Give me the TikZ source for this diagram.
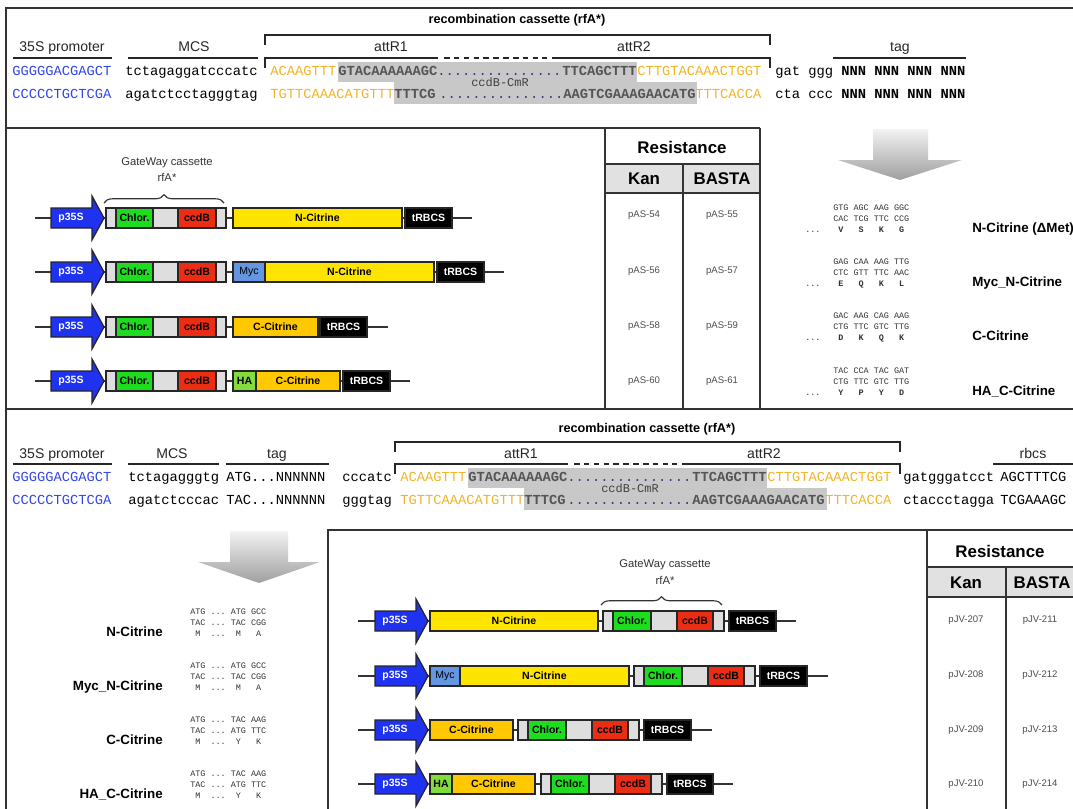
\documentclass[tikz,border=0pt]{standalone}
\usepackage{fontspec}
\setmainfont{Liberation Sans}
\setmonofont{Liberation Mono}
\usepackage{xcolor}
\usetikzlibrary{decorations.pathreplacing}

\definecolor{promblue}{RGB}{30,50,240}
\definecolor{chlgreen}{RGB}{30,220,30}
\definecolor{ccdred}{RGB}{235,45,20}
\definecolor{gwgray}{RGB}{222,222,222}
\definecolor{citn}{RGB}{255,228,0}
\definecolor{citc}{RGB}{255,200,0}
\definecolor{mycblue}{RGB}{100,150,225}
\definecolor{hagreen}{RGB}{130,220,60}
\definecolor{seqblue}{RGB}{50,70,230}
\definecolor{seqyel}{RGB}{240,180,40}
\definecolor{hlgray}{RGB}{200,200,200}
\definecolor{hltext}{RGB}{85,85,85}
\definecolor{dotblue}{RGB}{60,60,140}
\definecolor{kgray}{RGB}{225,225,225}

\newcommand{\seqfont}{\fontsize{9.8}{11}\selectfont\ttfamily}
\newcommand{\codfont}{\fontsize{6}{6.5}\selectfont\ttfamily}
\newcommand{\elfont}{\fontsize{7.5}{8}\selectfont\bfseries}

\begin{document}
\begin{tikzpicture}[x=0.025cm, y=-0.025cm,
  frame/.style={draw=black!80, line width=1.4pt},
  brk/.style={draw=black!85, line width=1.1pt},
  tab/.style={draw=black!80, line width=1pt},
  seq/.style={font=\seqfont, anchor=base west, inner sep=0pt},
  hl/.style={text=hltext, font=\seqfont\bfseries},
  sect/.style={font=\fontsize{10}{11}\selectfont, anchor=base, inner sep=0pt, text=black!85},
  title/.style={font=\fontsize{9}{10}\selectfont\bfseries, inner sep=0pt},
  bb/.style={draw=black!80, line width=1pt},
  elem/.style={draw=black!85, line width=0.9pt},
  prom/.style={elem, fill=promblue},
  term/.style={elem, fill=black},
  elabel/.style={font=\elfont, inner sep=0pt},
  wlabel/.style={font=\elfont, text=white, inner sep=0pt},
  gwtext/.style={font=\fontsize{8}{9}\selectfont, inner sep=0pt, text=black!80},
  reshead/.style={font=\fontsize{12}{13}\selectfont\bfseries, inner sep=0pt},
  resval/.style={font=\fontsize{6.8}{7}\selectfont, inner sep=0pt, text=black!70},
  cod/.style={font=\codfont, anchor=base west, inner sep=0pt, text=black!80},
  cname/.style={font=\fontsize{9.5}{10}\selectfont\bfseries, inner sep=0pt}]

  \useasboundingbox (0,0) rectangle (1073,809);
  \clip (0,0) rectangle (1073,809);

  % Frame
  \draw[frame] (6,809) -- (6,8) -- (1073,8);
  \draw[frame] (6,128) -- (760,128);
  \draw[frame] (6,409) -- (1073,409);
  \draw[frame] (1073,530) -- (328,530) -- (328,809);

  %%% Top sequence
  \node[title] (rc1) at (517,20) {recombination cassette (rfA*)};
  \draw[brk] (265,45) -- (265,35) -- (770,35) -- (770,45);
  \node[sect] (pra) at (62,52) {35S promoter};
  \node[sect] (mcsa) at (194,52) {MCS};
  \node[sect] (r1a) at (391,52) {attR1};
  \node[sect] (r2a) at (634,52) {attR2};
  \node[sect] (taga) at (900,52) {tag};
  \draw[brk] (13,58) -- (112,58);
  \draw[brk] (128,58) -- (258,58);
  \draw[brk] (265,68) -- (265,58) -- (438,58);
  \draw[brk, dash pattern=on 4pt off 3pt] (444,58) -- (547,58);
  \draw[brk] (552,58) -- (770,58) -- (770,68);
  \draw[brk] (833,58) -- (966,58);
  % shaded ccdB-CmR part
  \fill[hlgray] (338,62) rectangle (637,82);
  \fill[hlgray] (394,82) rectangle (697,104);
  % Row 1
  \node[seq, text=seqblue] (a1) at (12,75) {GGGGGACGAGCT};
  \node[seq] (a2) at (125,75) {tctagaggatcccatc};
  \node[seq, text=seqyel] (a3) at (270,75) {ACAAGTTT};
  \node[seq, hl] (a4) at (338,75) {GTACAAAAAAGC};
  \node[seq, text=dotblue] (a5) at (437,75) {...............};
  \node[seq, hl] (a6) at (562,75) {TTCAGCTTT};
  \node[seq, text=seqyel] (a7) at (637,75) {CTTGTACAAACTGGT};
  \node[seq] (a8) at (775,75) {gat~ggg};
  \node[seq, font=\seqfont\bfseries] (a9) at (841,75) {NNN~NNN~NNN~NNN};
  % Row 2
  \node[seq, text=seqblue] (b1) at (12,98) {CCCCCTGCTCGA};
  \node[seq] (b2) at (125,98) {agatctcctagggtag};
  \node[seq, text=seqyel] (b3) at (270,98) {TGTTCAAACATGTTT};
  \node[seq, hl] (b4) at (394,98) {TTTCG};
  \node[seq, text=dotblue] (b5) at (439,98) {...............};
  \node[seq, hl] (b6) at (563,98) {AAGTCGAAAGAACATG};
  \node[seq, text=seqyel] (b7) at (695,98) {TTTCACCA};
  \node[seq] (b8) at (775,98) {cta~ccc};
  \node[seq, font=\seqfont\bfseries] (b9) at (841,98) {NNN~NNN~NNN~NNN};
  \node[seq, anchor=base, font=\fontsize{8.5}{9}\selectfont\ttfamily, text=black!75] (cm1) at (500,86) {ccdB-CmR};

  %%% Upper constructs
  \draw[decorate, decoration={brace, amplitude=6pt}, draw=black!80, line width=0.8pt] (104,203) -- (224,203);
  \node[gwtext] (gwa) at (167,163) {GateWay cassette};
  \node[gwtext] (gwb) at (167,177) {rfA*};
  % Row 1
  \draw[bb] (35,218) -- (472,218);
  \draw[prom] (51,208) -- (92,208) -- (92,196) -- (104,218) -- (92,240) -- (92,228) -- (51,228) -- cycle;
  \node[wlabel] (p1) at (71,218) {p35S};
  \draw[elem, fill=gwgray] (106,208) rectangle (226,228);
  \draw[elem, fill=chlgreen] (116,208) rectangle (153,228) node[midway, elabel] (ch1) {Chlor.};
  \draw[elem, fill=ccdred] (178,208) rectangle (216,228) node[midway, elabel] (cc1) {ccdB};
  \draw[elem, fill=citn] (233,208) rectangle (402,228) node[midway, elabel] (ci1) {N-Citrine};
  \draw[term] (405,208) rectangle (452,228) node[midway, wlabel] (t1) {tRBCS};
  % Row 2
  \draw[bb] (35,272) -- (504,272);
  \draw[prom] (51,262) -- (92,262) -- (92,250) -- (104,272) -- (92,294) -- (92,282) -- (51,282) -- cycle;
  \node[wlabel] (p2) at (71,272) {p35S};
  \draw[elem, fill=gwgray] (106,262) rectangle (226,282);
  \draw[elem, fill=chlgreen] (116,262) rectangle (153,282) node[midway, elabel] (ch2) {Chlor.};
  \draw[elem, fill=ccdred] (178,262) rectangle (216,282) node[midway, elabel] (cc2) {ccdB};
  \draw[elem, fill=mycblue] (233,262) rectangle (265,282) node[midway, elabel, font=\fontsize{7.5}{8}\selectfont] (my2) {Myc};
  \draw[elem, fill=citn] (265,262) rectangle (434,282) node[midway, elabel] (ci2) {N-Citrine};
  \draw[term] (437,262) rectangle (484,282) node[midway, wlabel] (t2) {tRBCS};
  % Row 3
  \draw[bb] (35,327) -- (388,327);
  \draw[prom] (51,317) -- (92,317) -- (92,305) -- (104,327) -- (92,349) -- (92,337) -- (51,337) -- cycle;
  \node[wlabel] (p3) at (71,327) {p35S};
  \draw[elem, fill=gwgray] (106,317) rectangle (226,337);
  \draw[elem, fill=chlgreen] (116,317) rectangle (153,337) node[midway, elabel] (ch3) {Chlor.};
  \draw[elem, fill=ccdred] (178,317) rectangle (216,337) node[midway, elabel] (cc3) {ccdB};
  \draw[elem, fill=citc] (233,317) rectangle (318,337) node[midway, elabel] (ci3) {C-Citrine};
  \draw[term] (320,317) rectangle (367,337) node[midway, wlabel] (t3) {tRBCS};
  % Row 4
  \draw[bb] (35,381) -- (410,381);
  \draw[prom] (51,371) -- (92,371) -- (92,359) -- (104,381) -- (92,403) -- (92,391) -- (51,391) -- cycle;
  \node[wlabel] (p4) at (71,381) {p35S};
  \draw[elem, fill=gwgray] (106,371) rectangle (226,391);
  \draw[elem, fill=chlgreen] (116,371) rectangle (153,391) node[midway, elabel] (ch4) {Chlor.};
  \draw[elem, fill=ccdred] (178,371) rectangle (216,391) node[midway, elabel] (cc4) {ccdB};
  \draw[elem, fill=hagreen] (233,371) rectangle (256,391) node[midway, elabel] (ha4) {HA};
  \draw[elem, fill=citc] (256,371) rectangle (340,391) node[midway, elabel] (ci4) {C-Citrine};
  \draw[term] (343,371) rectangle (390,391) node[midway, wlabel] (t4) {tRBCS};

  % Upper resistance table
  \fill[kgray] (605,164) rectangle (760,193);
  \draw[tab] (605,128) -- (605,409);
  \draw[tab] (760,128) -- (760,409);
  \draw[tab] (605,164) -- (760,164);
  \draw[tab] (605,193) -- (760,193);
  \draw[tab] (683,164) -- (683,409);
  \node[reshead] (res1) at (682,147) {Resistance};
  \node[reshead] (kan1) at (644,179) {Kan};
  \node[reshead] (bas1) at (722,179) {BASTA};
  \node[resval] (k54) at (644,215) {pAS-54};
  \node[resval] (k56) at (644,271) {pAS-56};
  \node[resval] (k58) at (644,326) {pAS-58};
  \node[resval] (k60) at (644,381) {pAS-60};
  \node[resval] (b55) at (722,215) {pAS-55};
  \node[resval] (b57) at (722,271) {pAS-57};
  \node[resval] (b59) at (722,326) {pAS-59};
  \node[resval] (b61) at (722,381) {pAS-61};

  % Upper arrow
  \shade[top color=gray!10, bottom color=gray!75] (873,129) -- (928,129) -- (928,160) -- (962,160) -- (900,180) -- (838,160) -- (873,160) -- cycle;

  % Upper codons
  \node[cod] (u1a) at (833,210) {GTG~AGC~AAG~GGC};
  \node[cod] (u1b) at (833,221) {CAC~TCG~TTC~CCG};
  \node[cod, font=\codfont\bfseries] (u1c) at (833,232) {~V~~~S~~~K~~~G};
  \node[cod] (u1d) at (805,232) {...};
  \node[cname, anchor=base west] (n1) at (972,232) {N-Citrine (ΔMet)};
  \node[cod] (u2a) at (833,264) {GAG~CAA~AAG~TTG};
  \node[cod] (u2b) at (833,275) {CTC~GTT~TTC~AAC};
  \node[cod, font=\codfont\bfseries] (u2c) at (833,286) {~E~~~Q~~~K~~~L};
  \node[cod] (u2d) at (805,286) {...};
  \node[cname, anchor=base west] (n2) at (972,286) {Myc\_N-Citrine};
  \node[cod] (u3a) at (833,318) {GAC~AAG~CAG~AAG};
  \node[cod] (u3b) at (833,329) {CTG~TTC~GTC~TTG};
  \node[cod, font=\codfont\bfseries] (u3c) at (833,340) {~D~~~K~~~Q~~~K};
  \node[cod] (u3d) at (805,340) {...};
  \node[cname, anchor=base west] (n3) at (972,340) {C-Citrine};
  \node[cod] (u4a) at (833,373) {TAC~CCA~TAC~GAT};
  \node[cod] (u4b) at (833,384) {CTG~TTC~GTC~TTG};
  \node[cod, font=\codfont\bfseries] (u4c) at (833,395) {~Y~~~P~~~Y~~~D};
  \node[cod] (u4d) at (805,395) {...};
  \node[cname, anchor=base west] (n4) at (972,395) {HA\_C-Citrine};

  %%% Middle sequence
  \node[title] (rc2) at (647,429) {recombination cassette (rfA*)};
  \draw[brk] (395,452) -- (395,442) -- (900,442) -- (900,452);
  \node[sect] (prb) at (62,458) {35S promoter};
  \node[sect] (mcsb) at (172,458) {MCS};
  \node[sect] (tagb) at (277,458) {tag};
  \node[sect] (r1b) at (521,458) {attR1};
  \node[sect] (r2b) at (764,458) {attR2};
  \node[sect] (rbb) at (1033,458) {rbcs};
  \draw[brk] (13,464) -- (112,464);
  \draw[brk] (128,464) -- (219,464);
  \draw[brk] (226,464) -- (329,464);
  \draw[brk] (395,474) -- (395,464) -- (568,464);
  \draw[brk, dash pattern=on 4pt off 3pt] (574,464) -- (677,464);
  \draw[brk] (682,464) -- (900,464) -- (900,474);
  \draw[brk] (993,464) -- (1073,464);
  % shaded ccdB-CmR part
  \fill[hlgray] (468,468) rectangle (767,488);
  \fill[hlgray] (524,488) rectangle (827,510);
  % Row 1
  \node[seq, text=seqblue] (c1) at (12,481) {GGGGGACGAGCT};
  \node[seq] (c2) at (128,481) {tctagagggtg};
  \node[seq] (c3) at (226,481) {ATG...NNNNNN};
  \node[seq] (c4) at (342,481) {cccatc};
  \node[seq, text=seqyel] (c5) at (400,481) {ACAAGTTT};
  \node[seq, hl] (c6) at (468,481) {GTACAAAAAAGC};
  \node[seq, text=dotblue] (c7) at (567,481) {...............};
  \node[seq, hl] (c8) at (692,481) {TTCAGCTTT};
  \node[seq, text=seqyel] (c9) at (767,481) {CTTGTACAAACTGGT};
  \node[seq] (c10) at (903,481) {gatgggatcct};
  \node[seq] (c11) at (1000,481) {AGCTTTCG};
  % Row 2
  \node[seq, text=seqblue] (d1) at (12,504) {CCCCCTGCTCGA};
  \node[seq] (d2) at (128,504) {agatctcccac};
  \node[seq] (d3) at (226,504) {TAC...NNNNNN};
  \node[seq] (d4) at (342,504) {gggtag};
  \node[seq, text=seqyel] (d5) at (400,504) {TGTTCAAACATGTTT};
  \node[seq, hl] (d6) at (524,504) {TTTCG};
  \node[seq, text=dotblue] (d7) at (567,504) {...............};
  \node[seq, hl] (d8) at (692,504) {AAGTCGAAAGAACATG};
  \node[seq, text=seqyel] (d9) at (825,504) {TTTCACCA};
  \node[seq] (d10) at (903,504) {ctaccctagga};
  \node[seq] (d11) at (1000,504) {TCGAAAGC};
  \node[seq, anchor=base, font=\fontsize{8.5}{9}\selectfont\ttfamily, text=black!75] (cm2) at (630,492) {ccdB-CmR};

  %%% Lower codons
  \shade[top color=gray!10, bottom color=gray!75] (230,531) -- (288,531) -- (288,562) -- (320,562) -- (259,583) -- (198,562) -- (230,562) -- cycle;
  \node[cname, anchor=base east] (m1) at (163,636) {N-Citrine};
  \node[cod] (l1a) at (190,614) {ATG~...~ATG~GCC};
  \node[cod] (l1b) at (190,625) {TAC~...~TAC~CGG};
  \node[cod] (l1c) at (190,636) {~M~~...~~M~~~A};
  \node[cname, anchor=base east] (m2) at (163,690) {Myc\_N-Citrine};
  \node[cod] (l2a) at (190,668) {ATG~...~ATG~GCC};
  \node[cod] (l2b) at (190,679) {TAC~...~TAC~CGG};
  \node[cod] (l2c) at (190,690) {~M~~...~~M~~~A};
  \node[cname, anchor=base east] (m3) at (163,744) {C-Citrine};
  \node[cod] (l3a) at (190,722) {ATG~...~TAC~AAG};
  \node[cod] (l3b) at (190,733) {TAC~...~ATG~TTC};
  \node[cod] (l3c) at (190,744) {~M~~...~~Y~~~K};
  \node[cname, anchor=base east] (m4) at (163,798) {HA\_C-Citrine};
  \node[cod] (l4a) at (190,776) {ATG~...~TAC~AAG};
  \node[cod] (l4b) at (190,787) {TAC~...~ATG~TTC};
  \node[cod] (l4c) at (190,798) {~M~~...~~Y~~~K};

  %%% Lower constructs
  \draw[decorate, decoration={brace, amplitude=6pt}, draw=black!80, line width=0.8pt] (601,605) -- (722,605);
  \node[gwtext] (gwc) at (665,565) {GateWay cassette};
  \node[gwtext] (gwd) at (665,580) {rfA*};
  % Row 1
  \draw[bb] (358,621) -- (796,621);
  \draw[prom] (375,611) -- (416,611) -- (416,599) -- (428,621) -- (416,643) -- (416,631) -- (375,631) -- cycle;
  \node[wlabel] (q1) at (395,621) {p35S};
  \draw[elem, fill=citn] (430,611) rectangle (598,631) node[midway, elabel] (di1) {N-Citrine};
  \draw[elem, fill=gwgray] (603,611) rectangle (724,631);
  \draw[elem, fill=chlgreen] (613,611) rectangle (651,631) node[midway, elabel] (dh1) {Chlor.};
  \draw[elem, fill=ccdred] (677,611) rectangle (713,631) node[midway, elabel] (dc1) {ccdB};
  \draw[term] (729,611) rectangle (776,631) node[midway, wlabel] (u1) {tRBCS};
  % Row 2
  \draw[bb] (358,676) -- (828,676);
  \draw[prom] (375,666) -- (416,666) -- (416,654) -- (428,676) -- (416,698) -- (416,686) -- (375,686) -- cycle;
  \node[wlabel] (q2) at (395,676) {p35S};
  \draw[elem, fill=mycblue] (430,666) rectangle (460,686) node[midway, elabel, font=\fontsize{7.5}{8}\selectfont] (dm2) {Myc};
  \draw[elem, fill=citn] (460,666) rectangle (629,686) node[midway, elabel] (di2) {N-Citrine};
  \draw[elem, fill=gwgray] (634,666) rectangle (755,686);
  \draw[elem, fill=chlgreen] (644,666) rectangle (682,686) node[midway, elabel] (dh2) {Chlor.};
  \draw[elem, fill=ccdred] (708,666) rectangle (744,686) node[midway, elabel] (dc2) {ccdB};
  \draw[term] (760,666) rectangle (807,686) node[midway, wlabel] (u2) {tRBCS};
  % Row 3
  \draw[bb] (358,730) -- (712,730);
  \draw[prom] (375,720) -- (416,720) -- (416,708) -- (428,730) -- (416,752) -- (416,740) -- (375,740) -- cycle;
  \node[wlabel] (q3) at (395,730) {p35S};
  \draw[elem, fill=citc] (430,720) rectangle (513,740) node[midway, elabel] (di3) {C-Citrine};
  \draw[elem, fill=gwgray] (518,720) rectangle (639,740);
  \draw[elem, fill=chlgreen] (528,720) rectangle (566,740) node[midway, elabel] (dh3) {Chlor.};
  \draw[elem, fill=ccdred] (592,720) rectangle (628,740) node[midway, elabel] (dc3) {ccdB};
  \draw[term] (644,720) rectangle (691,740) node[midway, wlabel] (u3) {tRBCS};
  % Row 4
  \draw[bb] (358,784) -- (733,784);
  \draw[prom] (375,774) -- (416,774) -- (416,762) -- (428,784) -- (416,806) -- (416,794) -- (375,794) -- cycle;
  \node[wlabel] (q4) at (395,784) {p35S};
  \draw[elem, fill=hagreen] (430,774) rectangle (452,794) node[midway, elabel] (dh4a) {HA};
  \draw[elem, fill=citc] (452,774) rectangle (535,794) node[midway, elabel] (di4) {C-Citrine};
  \draw[elem, fill=gwgray] (541,774) rectangle (662,794);
  \draw[elem, fill=chlgreen] (551,774) rectangle (589,794) node[midway, elabel] (dh4) {Chlor.};
  \draw[elem, fill=ccdred] (615,774) rectangle (651,794) node[midway, elabel] (dc4) {ccdB};
  \draw[term] (667,774) rectangle (713,794) node[midway, wlabel] (u4) {tRBCS};

  % Lower resistance table
  \fill[kgray] (927,567) rectangle (1073,597);
  \draw[tab] (927,530) -- (927,809);
  \draw[tab] (927,567) -- (1073,567);
  \draw[tab] (927,597) -- (1073,597);
  \draw[tab] (1006,567) -- (1006,809);
  \node[reshead] (res2) at (1000,551) {Resistance};
  \node[reshead] (kan2) at (966,583) {Kan};
  \node[reshead] (bas2) at (1042,583) {BASTA};
  \node[resval] (k207) at (966,620) {pJV-207};
  \node[resval] (k208) at (966,675) {pJV-208};
  \node[resval] (k209) at (966,730) {pJV-209};
  \node[resval] (k210) at (966,784) {pJV-210};
  \node[resval] (b211) at (1040,620) {pJV-211};
  \node[resval] (b212) at (1040,675) {pJV-212};
  \node[resval] (b213) at (1040,730) {pJV-213};
  \node[resval] (b214) at (1040,784) {pJV-214};
\end{tikzpicture}
\end{document}
